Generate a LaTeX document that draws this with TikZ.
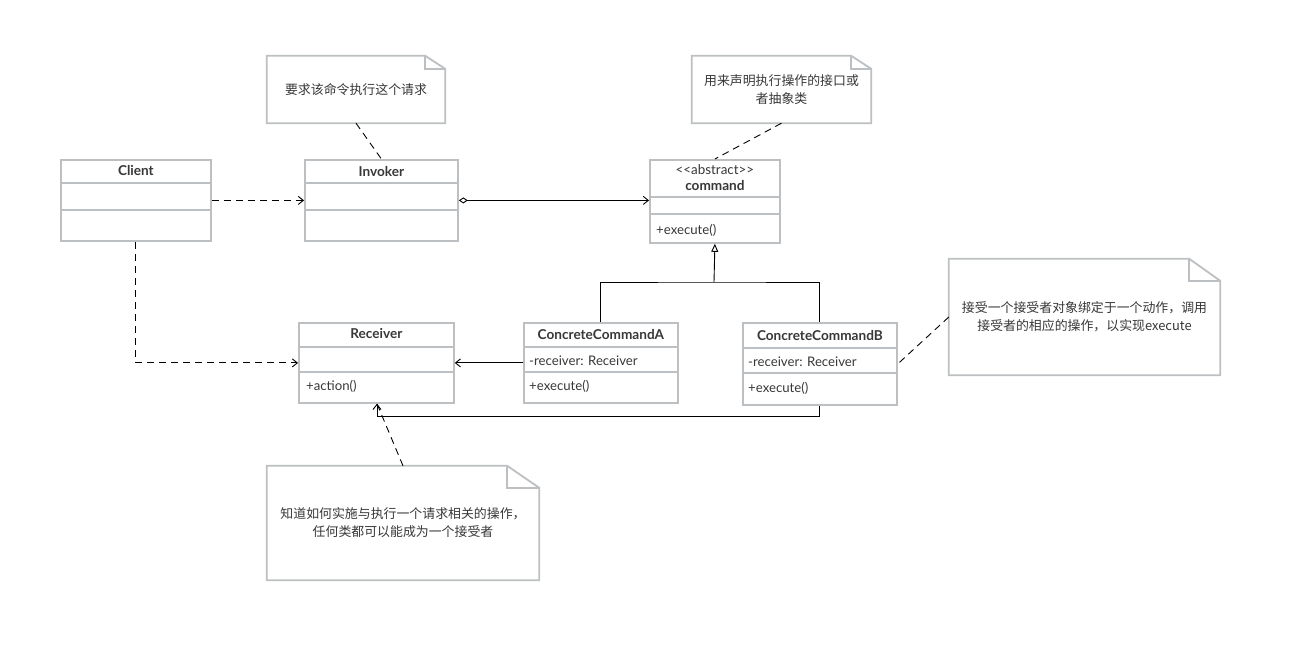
\documentclass[tikz,border=0pt]{standalone}
\usepackage{fontspec}
\setmainfont{Lato}
\newfontfamily\cjk{Noto Sans CJK SC}
\usetikzlibrary{arrows.meta,calc}

\definecolor{boxgray}{HTML}{BDC0C3}
\definecolor{txt}{HTML}{383838}

% horizontal compartment rule inside a class box
\newcommand{\umlrule}[2]{%
  \draw[boxline] ($(#1.north west)+(0,#2)$) -- ($(#1.north east)+(0,#2)$);}
% dog-eared outline around a note node: name, fold width, fold height
\newcommand{\noteoutline}[3]{%
  \draw[boxline, line join=miter]
    (#1.north west) -- ($(#1.north east)+(-#2,0)$) -- ($(#1.north east)+(0,#3)$)
    -- (#1.south east) -- (#1.south west) -- cycle;
  \draw[boxline] ($(#1.north east)+(-#2,0)$) -- ++(0,#3) -- ($(#1.north east)+(0,#3)$);}

\begin{document}
\begin{tikzpicture}[x=1pt,y=-1pt,
  boxline/.style={draw=boxgray, line width=1.8pt},
  classbox/.style={boxline, anchor=north west, inner sep=0pt},
  title/.style={font=\bfseries\fontsize{13.6}{15}\selectfont, text=txt, inner sep=0pt},
  stereo/.style={font=\fontsize{13.4}{15}\selectfont, text=txt, inner sep=0pt},
  member/.style={font=\fontsize{13.2}{15}\selectfont, text=txt, anchor=west, inner sep=0pt},
  notearea/.style={draw=none, inner sep=0pt, align=center, text=txt,
    font=\cjk\fontsize{12.9}{18}\selectfont},
  link/.style={draw=black, line width=0.9pt},
  dep/.style={link, dash pattern=on 7pt off 5pt, -{Straight Barb[length=5pt,width=8pt]}},
  assoc/.style={link, -{Straight Barb[length=5pt,width=8pt]}},
  agg/.style={link, {Diamond[open,length=9pt,width=6pt]}-{Straight Barb[length=5pt,width=8pt]}},
  inherit/.style={link, -{Triangle[open,length=8pt,width=7pt]}},
  notelink/.style={link, dash pattern=on 7pt off 5pt}]

\fill[white] (0,0) rectangle (1296,658);

% ---------- classes ----------
\node[classbox, minimum width=150pt, minimum height=81pt] (client) at (60,159) {};
\umlrule{client}{24}\umlrule{client}{51}
\node[title] (client-t) at ($(client.north)+(0,12)$) {Client};

\node[classbox, minimum width=153pt, minimum height=81pt] (invoker) at (304,159) {};
\umlrule{invoker}{24}\umlrule{invoker}{51}
\node[title] (invoker-t) at ($(invoker.north)+(0,12)$) {Invoker};

\node[classbox, minimum width=130pt, minimum height=83pt] (command) at (649,159) {};
\umlrule{command}{38}\umlrule{command}{55}
\node[stereo] (command-s) at ($(command.north)+(0,11)$) {<\kern0pt<abstract>\kern0pt>};
\node[title] (command-t) at ($(command.north)+(0,27)$) {command};
\node[member] (command-m) at ($(command.north west)+(7,71)$) {+execute()};

\node[classbox, minimum width=155pt, minimum height=80pt] (receiver) at (298,322) {};
\umlrule{receiver}{25}\umlrule{receiver}{50}
\node[title] (receiver-t) at ($(receiver.north)+(0,12)$) {Receiver};
\node[member] (receiver-m) at ($(receiver.north west)+(8,64)$) {+action()};

\node[classbox, minimum width=154pt, minimum height=80pt] (cca) at (523,322) {};
\umlrule{cca}{25}\umlrule{cca}{50}
\node[title] (cca-t) at ($(cca.north)+(0,12)$) {ConcreteCommandA};
\node[member] (cca-a) at ($(cca.north west)+(6,39)$) {-receiver: Receiver};
\node[member] (cca-m) at ($(cca.north west)+(6,64)$) {+execute()};

\node[classbox, minimum width=154pt, minimum height=82pt] (ccb) at (742,322) {};
\umlrule{ccb}{26}\umlrule{ccb}{51}
\node[title] (ccb-t) at ($(ccb.north)+(0,14)$) {ConcreteCommandB};
\node[member] (ccb-a) at ($(ccb.north west)+(6,40)$) {-receiver: Receiver};
\node[member] (ccb-m) at ($(ccb.north west)+(6,66)$) {+execute()};

% ---------- notes ----------
\node[notearea, minimum width=178pt, minimum height=67pt] (n1) at (356,89.5)
  {要求该命令执行这个请求};
\noteoutline{n1}{20}{13}

\node[notearea, minimum width=179pt, minimum height=67pt] (n2) at (781.5,89.5)
  {用来声明执行操作的接口或\\者抽象类};
\noteoutline{n2}{20}{13}

\node[notearea, minimum width=271pt, minimum height=116pt] (n3) at (1084.5,317)
  {接受一个接受者对象绑定于一个动作，调用\\接受者的相应的操作，以实现execute};
\noteoutline{n3}{31}{22}

\node[notearea, minimum width=272pt, minimum height=114pt] (n4) at (403,523)
  {知道如何实施与执行一个请求相关的操作，\\任何类都可以能成为一个接受者};
\noteoutline{n4}{32}{22}

% ---------- relations ----------
\draw[dep] (client.east) -- (invoker.west);
\draw[dep] (client.south) |- (receiver.west);
\draw[agg] (invoker.east) -- (invoker.east -| command.west);
\draw[assoc] (cca.west) -- (cca.west -| receiver.east);

\coordinate (join) at (714,282);
\draw[link] (cca.north) |- (join) -| (ccb.north);
\draw[inherit] (join) -- (command.south);

\coordinate (bend) at (377,416);
\draw[assoc] (ccb.south) |- (bend) -- (bend |- receiver.south);

\draw[notelink] (n1.south) -- (invoker.north);
\draw[notelink] (n2.south) -- (command.north);
\draw[notelink] (n3.west) -- (ccb.east);
\draw[notelink] (n4.north) -- (bend |- receiver.south);

\end{tikzpicture}
\end{document}
